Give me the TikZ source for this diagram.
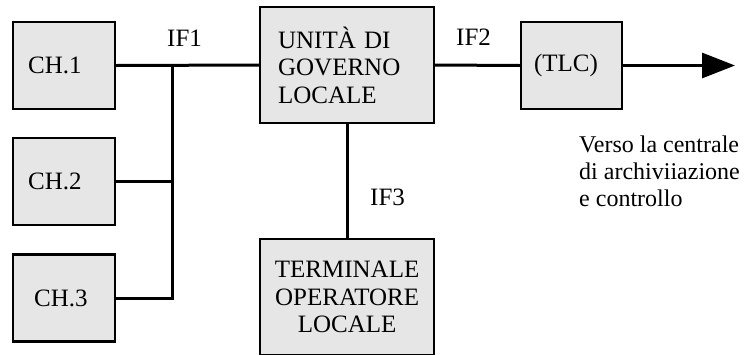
\documentclass[tikz,border=0pt]{standalone}
\usepackage{fontspec}
\setmainfont{Liberation Serif}
\usetikzlibrary{arrows.meta}
\definecolor{boxfill}{HTML}{E6E6E6}
\begin{document}
\begin{tikzpicture}[x=1pt,y=-1pt,
  every node/.style={font=\fontsize{25pt}{27.5pt}\selectfont},
  blk/.style={draw=black, fill=boxfill, line width=2.2pt, rectangle,
    minimum height=#1, anchor=west, align=left, inner ysep=0pt},
  blk/.default=87pt,
  wire/.style={line width=3pt},
  lbl/.style={inner sep=0pt, anchor=base west}]
\useasboundingbox (0,0) rectangle (747,354);
\clip (0,0) rectangle (747,354);
% blocks
\node[blk, inner xsep=15pt, text width=72pt] (ch1) at (12,65.5) {CH.1};
\node[blk, inner xsep=15pt, text width=72pt] (ch2) at (12,181.5) {CH.2};
\node[blk, inner xsep=21pt, text width=60pt] (ch3) at (12,298) {CH.3};
\node[blk=116pt, inner xsep=18pt, text width=138pt] (ugl) at (259,65)
  {UNITÀ DI\\GOVERNO\\LOCALE};
\node[blk, inner xsep=13pt, text width=75pt] (tlc) at (520,65.5) {(TLC)};
\node[blk=116pt, inner xsep=4pt, text width=166pt, align=center] (tol) at (259,297)
  {TERMINALE\\OPERATORE\\LOCALE};
% bus
\coordinate (bustop) at (172,65);
\coordinate (tip) at (735,65.5);
\draw[wire] (ch1.east) -- (ugl.west);
\draw[wire] (bustop) -- (bustop |- ch3.east) -- (ch3.east);
\draw[wire] (ch2.east) -- (ch2.east -| bustop);
\draw[wire] (ugl.south) -- (tol.north);
\draw[wire] (ugl.east) -- (tlc.west);
\draw[wire, -{Triangle[length=33pt, width=25pt]}] (tlc.east) -- (tip);
% labels
\node[lbl] (if1) at (167,46) {IF1};
\node[lbl] (if2) at (456,45) {IF2};
\node[lbl] (if3) at (370,205) {IF3};
\node[lbl, align=left, font=\fontsize{24pt}{27pt}\selectfont] (verso) at (579,206)
  {Verso la centrale\\di archiviiazione\\e controllo};
\end{tikzpicture}
\end{document}
